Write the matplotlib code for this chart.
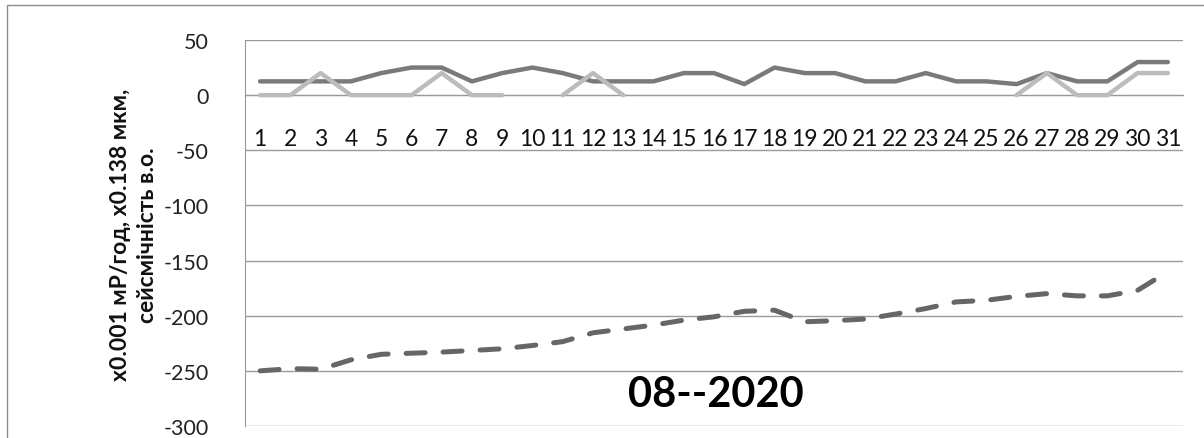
import numpy as np
import matplotlib
matplotlib.use("Agg")
import matplotlib.pyplot as plt
from matplotlib.patches import Rectangle

days = list(range(1, 32))
day_labels = [str(d) for d in days]

radiation = [12.5, 12.5, 12.5, 12.5, 20, 25, 25, 12.5, 20, 25, 20, 12.5, 12.5, 12.5, 20, 20,
             10, 25, 20, 20, 12.5, 12.5, 20, 12.5, 12.5, 10, 20, 12.5, 12.5, 30, 30]
seismic = [0, 0, 20, 0, 0, 0, 20, 0, 0, np.nan, 0, 20, 0, np.nan, np.nan, np.nan,
           np.nan, np.nan, np.nan, np.nan, np.nan, np.nan, np.nan, np.nan, np.nan, 0, 20, 0, 0, 20, 20]
deformation = [-250, -248, -248.5, -240, -235, -234, -233, -231.5, -230, -227, -223.5, -215.5,
               -212, -208.5, -204, -201, -196, -195, -205.5, -204.5, -203, -198.5, -193.5, -187.5,
               -186, -182.5, -180, -182, -182, -177, -160]

y_ticks = [50, 0, -50, -100, -150, -200, -250, -300]
title_text = "08--2020"
y_label = "x0.001 мР/год, x0.138 мкм,\nсейсмічність в.о."

plt.rcParams['font.family'] = ['Lato', 'DejaVu Sans']

W, H = 1204, 439
fig = plt.figure(figsize=(W / 100, H / 100), dpi=100)
ax = fig.add_axes([245 / W, (H - 427) / H, (1183 - 245) / W, (427 - 41) / H])

# chart frame
fig.patches.append(Rectangle((7 / W, -0.1), 1.2, (H - 6) / H + 0.1, transform=fig.transFigure,
                             fill=False, edgecolor='#8c8c8c', linewidth=1.0))

grid_c = '#9a9a9a'
for s in ['top', 'right']:
    ax.spines[s].set_visible(False)
ax.spines['bottom'].set_position(('data', 0))
ax.spines['bottom'].set_color(grid_c)
ax.spines['left'].set_color(grid_c)

for t in y_ticks:
    ax.axhline(t, color=grid_c, linewidth=1.0, zorder=1)

ax.plot(days, radiation, color='#7a7a7a', linewidth=3.2, solid_capstyle='round',
        solid_joinstyle='round', zorder=3)
ax.plot(days, seismic, color='#bcbcbc', linewidth=3.2, solid_capstyle='round',
        solid_joinstyle='round', zorder=4)
ax.plot(days, deformation, color='#666666', linewidth=3.6, linestyle=(0, (3.8, 3.6)),
        dash_capstyle='round', zorder=3)

ax.set_xlim(0.5, 31.5)
ax.set_ylim(-300, 50)
ax.set_yticks(y_ticks)
ax.set_yticklabels([str(t) for t in y_ticks], fontsize=15.5, color='#222222')
ax.set_xticks(days)
ax.set_xticklabels(day_labels, fontsize=16.5, color='#111111')
ax.tick_params(axis='x', length=0, pad=24)
ax.tick_params(axis='y', length=0, pad=26)

fig.text(134 / W, 1 - 235 / H, y_label, rotation=90, ha='center', va='center',
         fontsize=16.5, fontweight='bold', color='#111111', linespacing=1.3)
fig.text(716 / W, 1 - 395 / H, title_text, ha='center', va='center', fontsize=30,
         fontweight='bold', color='#000000')

fig.savefig("out.png", dpi=100)
